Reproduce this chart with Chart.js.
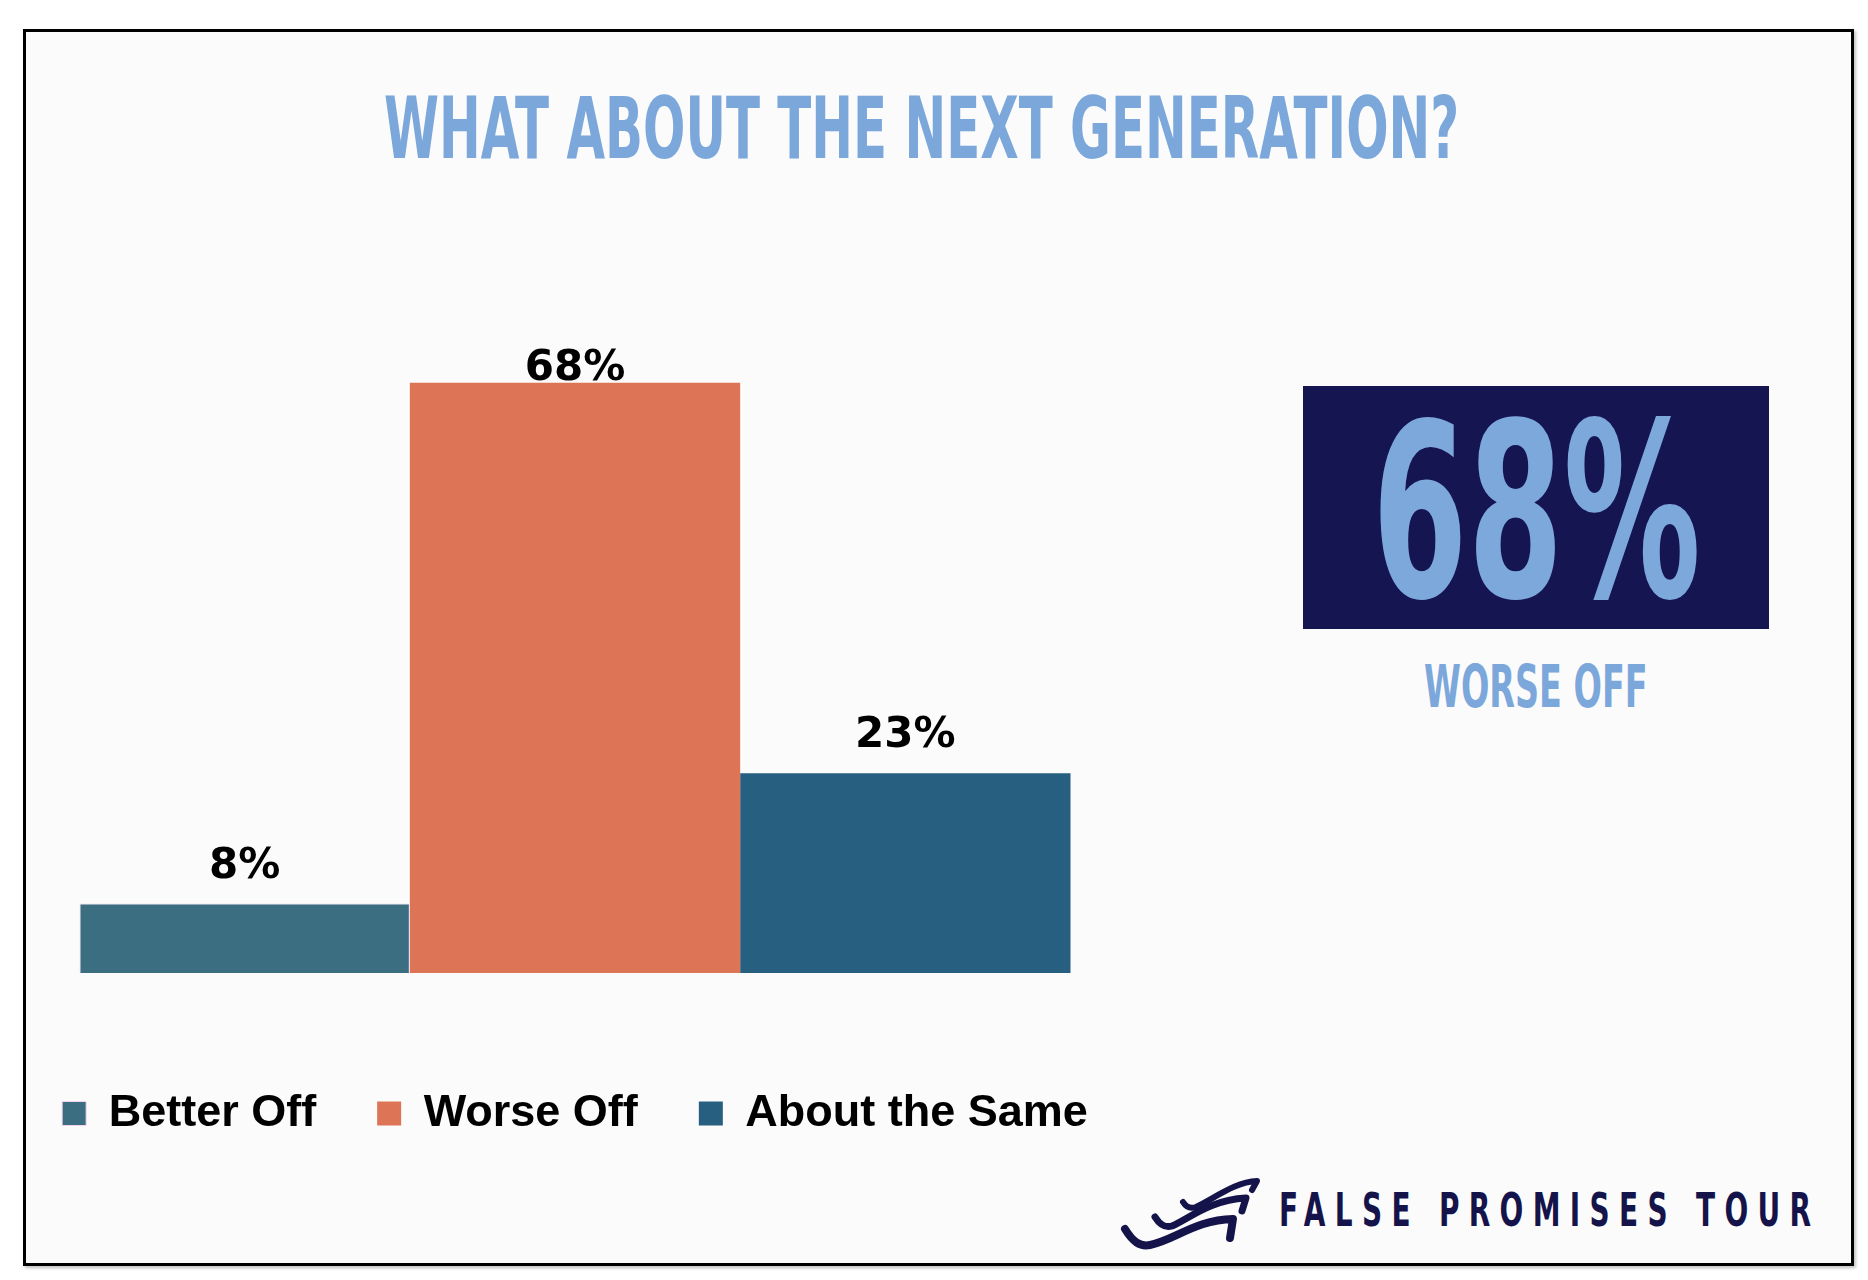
<!DOCTYPE html>
<html lang="en">
<head>
    <meta charset="UTF-8">
    <title>What About the Next Generation?</title>
    <script src="https://cdn.jsdelivr.net/npm/chart.js"></script>
    <style>
        body {
            margin: 0;
            width: 1868px;
            height: 1280px;
            background: #ffffff;
            position: relative;
            overflow: hidden;
            font-family: 'Liberation Sans', Arial, sans-serif;
        }
        #frame {
            position: absolute;
            left: 23px;
            top: 29px;
            width: 1831px;
            height: 1237px;
            box-sizing: border-box;
            border: 3px solid #000;
            background: #fbfbfb;
            box-shadow: 2px 2px 3px rgba(0, 0, 0, 0.25);
        }
        .fit {
            position: absolute;
            white-space: nowrap;
            display: inline-block;
            transform-origin: 0 0;
            font-family: 'Liberation Sans Narrow', 'DejaVu Sans Condensed', 'Roboto', sans-serif;
            font-weight: 700;
        }
        #bigBox {
            position: absolute;
            left: 1303px;
            top: 386px;
            width: 466px;
            height: 243px;
            background: #151552;
        }
        #chartCanvas {
            position: absolute;
            left: -40px;
            top: 348px;
        }
        #logoMark {
            position: absolute;
            left: 0;
            top: 0;
        }
    </style>
</head>
<body>
    <div id="frame"></div>
    <div id="bigBox"></div>
    <span class="fit" id="title" style="color:#7ba7db">WHAT ABOUT THE NEXT GENERATION?</span>
    <span class="fit" id="bigNum" style="color:#7da8dc">68%</span>
    <span class="fit" id="bigSub" style="color:#7ba7db">WORSE OFF</span>
    <span class="fit" id="logoText" style="color:#14144b; letter-spacing:0.3em">FALSE PROMISES TOUR</span>
    <svg id="logoMark" width="1868" height="1280">
        <g fill="none" stroke="#14144b" stroke-linecap="round" stroke-linejoin="round">
            <path d="M1125,1229 C1133,1242 1140,1247 1150,1245 C1175,1240 1195,1220 1233,1219 L1230,1238" stroke-width="8"/>
            <path d="M1155,1217 C1160,1225 1165,1228 1172,1226 C1190,1218 1210,1200 1246,1198 L1242,1211" stroke-width="7"/>
            <path d="M1183,1202 C1186,1207 1190,1209 1196,1207 C1215,1198 1235,1182 1257,1181 L1252,1190" stroke-width="6"/>
        </g>
    </svg>
    <canvas id="chartCanvas" width="1230" height="798"></canvas>

    <script>
        // data
        const categories = [''];
        const seriesNames = ['Better Off', 'Worse Off', 'About the Same'];
        const seriesValues = [8, 68, 23];
        const seriesColors = ['#3b6e80', '#dc7455', '#275f80'];

        const measureCtx = document.createElement('canvas').getContext('2d');

        // squeeze a line of text into a box given by cap top, cap height and width
        function placeText(id, x, capTop, capH, width) {
            const el = document.getElementById(id);
            const cs = getComputedStyle(el);
            measureCtx.font = `${cs.fontWeight} 100px ${cs.fontFamily}`;
            const m = measureCtx.measureText('H');
            const capRatio = m.actualBoundingBoxAscent / 100;
            const asc = m.fontBoundingBoxAscent / 100;
            const desc = m.fontBoundingBoxDescent / 100;
            const fs = capH / capRatio;
            el.style.fontSize = fs + 'px';
            el.style.lineHeight = fs + 'px';
            const baseline = (fs - (asc + desc) * fs) / 2 + asc * fs;
            el.style.top = (capTop + capH - baseline) + 'px';
            el.style.left = x + 'px';
            const ls = parseFloat(getComputedStyle(el).letterSpacing) || 0;
            const w = el.offsetWidth - ls;
            el.style.transform = `scaleX(${width / w})`;
        }

        placeText('title', 384, 97, 62, 1075);
        placeText('bigNum', 1372, 420, 177, 329);
        placeText('bigSub', 1424, 665, 43, 224);
        placeText('logoText', 1279, 1192, 34, 532);

        const valueLabels = {
            id: 'valueLabels',
            afterDatasetsDraw(chart) {
                const ctx = chart.ctx;
                ctx.save();
                ctx.font = "bold 42px 'DejaVu Sans', 'Liberation Sans', sans-serif";
                ctx.fillStyle = '#000';
                ctx.textAlign = 'center';
                ctx.textBaseline = 'alphabetic';
                const capH = ctx.measureText('6').actualBoundingBoxAscent;
                chart.data.datasets.forEach((ds, i) => {
                    const bar = chart.getDatasetMeta(i).data[0];
                    const y = Math.max(bar.y - 26, chart.chartArea.top + capH);
                    ctx.fillText(ds.data[0] + '%', bar.x, y);
                });
                ctx.restore();
            }
        };

        const datasets = seriesNames.map((name, i) => ({
            label: name,
            data: [seriesValues[i]],
            backgroundColor: seriesColors[i],
            borderColor: i === 0 ? '#f3d2f0' : seriesColors[i],
            borderWidth: i === 0 ? 1 : 0,
            barPercentage: 1,
            categoryPercentage: 0.8057
        }));

        new Chart(document.getElementById('chartCanvas'), {
            type: 'bar',
            data: { labels: categories, datasets },
            options: {
                responsive: false,
                animation: false,
                devicePixelRatio: 1,
                layout: { padding: 0 },
                scales: {
                    x: {
                        display: true,
                        grid: { display: false },
                        border: { display: false },
                        ticks: { display: false },
                        afterFit: (scale) => { scale.height = 57; }
                    },
                    y: { display: false, min: 0, max: 72 }
                },
                plugins: {
                    legend: {
                        position: 'bottom',
                        labels: {
                            color: '#000',
                            boxWidth: 24,
                            boxHeight: 24,
                            padding: 61,
                            font: { family: "'Liberation Sans', Arial, sans-serif", weight: 'bold', size: 45 }
                        }
                    },
                    tooltip: { enabled: false }
                }
            },
            plugins: [valueLabels]
        });
    </script>
</body>
</html>
